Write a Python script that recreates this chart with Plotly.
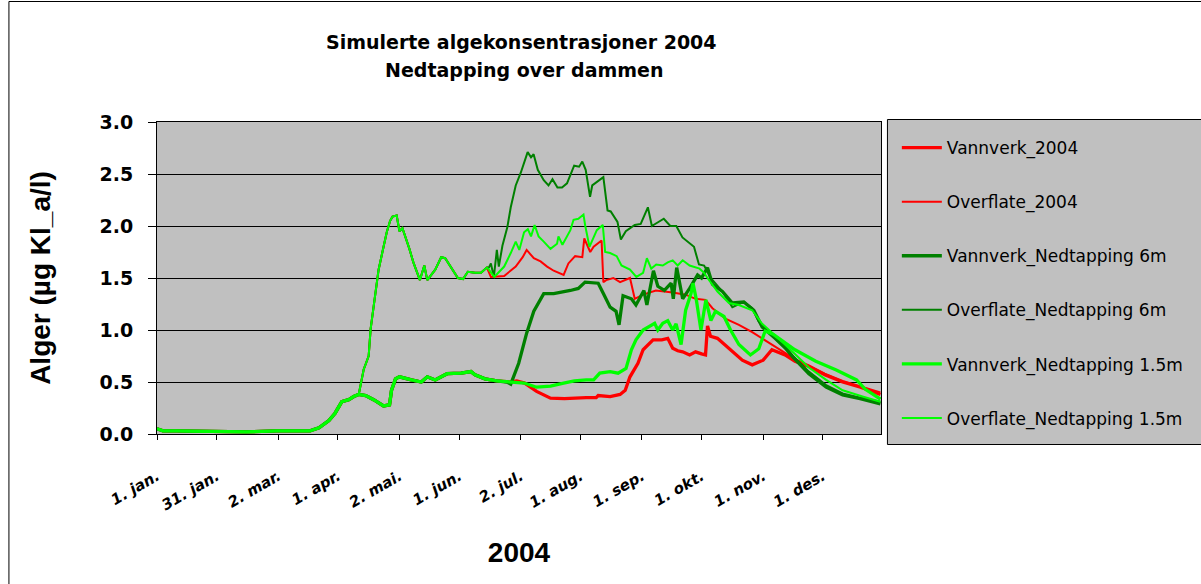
import plotly.graph_objects as go

# ---------------- data (day of year 2004, 0 = 1. jan.) ----------------
tick_days = [0, 30, 61, 91, 122, 152, 183, 213, 244, 274, 305, 335]
tick_labels = ["1. jan.", "31. jan.", "2. mar.", "1. apr.", "2. mai.", "1. jun.",
               "2. jul.", "1. aug.", "1. sep.", "1. okt.", "1. nov.", "1. des."]

# common start (all six series identical)
early_days = [0, 3, 10, 30, 45, 60, 77, 81.5, 86.5, 89.6, 93, 96.5, 99]
early_vals = [0.05, 0.03, 0.03, 0.02, 0.02, 0.03, 0.03, 0.06, 0.13, 0.20, 0.31, 0.33, 0.36]

# vannverk (intake) series identical until ~day 177
vv_common_days = [101.5, 105, 109, 114, 117, 118, 120, 122, 128, 133, 136, 140, 144, 146,
                  153, 158, 160, 165, 171, 176]
vv_common_vals = [0.38, 0.37, 0.33, 0.27, 0.28, 0.42, 0.53, 0.55, 0.52, 0.50, 0.55, 0.52, 0.56, 0.58,
                  0.585, 0.60, 0.57, 0.53, 0.51, 0.50]

# overflate (surface) series identical until ~day 166
of_common_days = [101.5, 104, 106.5, 107.5, 109.8, 111.5, 114, 115.6, 117.3, 118.5, 120.6, 122, 123.5,
                  125, 127, 129, 132.3, 134.5, 136, 140, 143, 145, 148, 151.4, 154, 156.4, 160, 163, 166]
of_common_vals = [0.38, 0.62, 0.75, 1.01, 1.35, 1.58, 1.80, 1.94, 2.05, 2.09, 2.10, 1.95, 1.98,
                  1.90, 1.78, 1.65, 1.48, 1.62, 1.48, 1.58, 1.70, 1.69, 1.60, 1.50, 1.49, 1.56, 1.55, 1.55, 1.60]

# Vannverk_2004
vv2004_days = [178, 181, 185, 191, 198, 205, 209, 216, 221, 222, 228, 233, 235.6, 238, 242, 244.6,
               249.6, 254, 257, 259.5, 262, 264.5, 268, 271, 274, 276, 277, 278.5, 282, 289.5, 294.5,
               299.5, 305, 309.4, 316, 321, 328, 336, 345, 354, 364]
vv2004_vals = [0.50, 0.51, 0.49, 0.41, 0.345, 0.34, 0.345, 0.35, 0.35, 0.37, 0.36, 0.38, 0.42, 0.55, 0.68, 0.81,
               0.905, 0.905, 0.92, 0.825, 0.80, 0.79, 0.76, 0.79, 0.77, 0.76, 1.04, 0.94, 0.92, 0.79, 0.71,
               0.665, 0.71, 0.81, 0.76, 0.70, 0.65, 0.57, 0.50, 0.45, 0.38]

# Overflate_2004
of2004_days = [168, 174.7, 180.5, 184, 186, 189.6, 193, 196.3, 199.6, 204.6, 207, 210.4, 214, 215, 218,
               219.7, 223.7, 224.6, 226, 229.6, 233, 238, 240.4, 244.6, 251, 259.5, 266, 271, 276, 279.5,
               286, 292.8, 299.5, 306, 312.7, 321, 328, 336, 345, 354, 364]
of2004_vals = [1.51, 1.52, 1.61, 1.70, 1.77, 1.69, 1.66, 1.61, 1.57, 1.53, 1.64, 1.71, 1.70, 1.88, 1.75,
               1.80, 1.86, 1.46, 1.48, 1.50, 1.46, 1.50, 1.30, 1.34, 1.38, 1.36, 1.34, 1.30, 1.29, 1.21,
               1.11, 1.05, 0.98, 0.90, 0.82, 0.72, 0.66, 0.58, 0.51, 0.46, 0.40]

# Vannverk_Nedtapping 6m
vv6_days = [178, 182, 186, 189.6, 194.6, 199.6, 208, 212, 215.4, 222, 224.6, 228, 231, 232.5, 234.5,
            238.7, 241, 245, 246.5, 249.8, 252, 255.3, 258.7, 259.8, 261.5, 264.5, 268, 270, 272, 274,
            277, 279.5, 284.5, 289.5, 295.3, 300.3, 304.5, 311, 316, 320, 328, 336.7, 345, 353.8, 364]
vv6_vals = [0.48, 0.68, 0.97, 1.18, 1.35, 1.35, 1.38, 1.40, 1.46, 1.45, 1.35, 1.22, 1.18, 1.05, 1.33,
            1.30, 1.24, 1.38, 1.24, 1.57, 1.42, 1.38, 1.45, 1.30, 1.60, 1.30, 1.40, 1.46, 1.53, 1.50,
            1.60, 1.44, 1.37, 1.26, 1.27, 1.19, 1.03, 0.92, 0.83, 0.74, 0.58, 0.45, 0.375, 0.34, 0.29]

# Overflate_Nedtapping 6m
of6_days = [167, 168, 169.5, 171, 172, 173.8, 176.3, 178, 180.5, 183, 185, 186.5, 188.2, 189.5, 191.6,
            194.6, 197, 199, 201.5, 203.8, 206.3, 209.9, 212.4, 214, 215.7, 217.9, 219, 224.6, 226.7,
            228.3, 231.7, 233.4, 235.9, 240.4, 243.4, 247, 249, 253.7, 255, 258.3, 261.3, 264.4, 267.8,
            270.2, 272.7, 275.3, 278.6, 284.5, 289.5, 295.3, 299.5, 302.8, 307.7, 312.7, 320, 328,
            336.7, 345, 353.8, 364]
of6_vals = [1.60, 1.64, 1.51, 1.77, 1.61, 1.81, 1.99, 2.18, 2.39, 2.51, 2.63, 2.71, 2.66, 2.69, 2.54,
            2.44, 2.39, 2.45, 2.37, 2.37, 2.41, 2.58, 2.57, 2.62, 2.54, 2.28, 2.39, 2.47, 2.15,
            2.14, 2.04, 1.87, 1.95, 2.01, 2.02, 2.18, 2.00, 2.06, 2.07, 2.00, 2.00, 1.89, 1.84,
            1.80, 1.63, 1.62, 1.50, 1.37, 1.22, 1.27, 1.21, 1.08, 0.99, 0.92, 0.75, 0.60,
            0.47, 0.39, 0.35, 0.31]

# Vannverk_Nedtapping 1.5m
vv15_days = [178, 184.7, 191, 198, 204.6, 210, 216, 219.7, 222.8, 228, 232, 236, 238.7, 241, 244.6, 247,
             250.4, 252, 254.5, 257, 259.5, 261.2, 263.7, 266, 268.7, 269.7, 271.3, 273.7, 276.2, 278.7,
             281, 285.3, 288.6, 292.8, 298.6, 302.8, 306, 310, 316, 321, 331.5, 341.8, 352, 356.4, 364]
vv15_vals = [0.50, 0.49, 0.45, 0.46, 0.49, 0.51, 0.52, 0.52, 0.585, 0.60, 0.585, 0.63, 0.81, 0.905, 1.00, 1.03,
             1.065, 1.00, 1.065, 1.09, 1.00, 1.06, 0.86, 1.19, 1.35, 1.45, 1.30, 1.00, 1.29, 1.09,
             1.18, 1.13, 1.00, 0.86, 0.76, 0.82, 0.99, 0.96, 0.88, 0.81, 0.70, 0.615, 0.52, 0.43, 0.335]

# Overflate_Nedtapping 1.5m
of15_days = [167, 169.7, 174.7, 178, 180.5, 182.3, 184.7, 186.6, 188.2, 190, 192, 194.6, 198, 201.3, 202,
             204, 208, 209.6, 212, 214.6, 215.5, 217.6, 221.3, 224.3, 225.5, 228, 231.3, 233.7, 238, 241.2,
             244.6, 246.5, 248.7, 251.2, 254.5, 257, 259.5, 262, 264.5, 268, 273, 275.3, 277, 282, 287.8,
             292.8, 299.5, 304.5, 310, 316, 321, 328, 336.7, 345, 355, 364]
of15_vals = [1.58, 1.51, 1.61, 1.74, 1.85, 1.77, 1.94, 1.97, 1.90, 2.01, 1.90, 1.85, 1.78, 1.83, 1.90,
             1.82, 1.96, 2.06, 2.07, 2.11, 2.00, 1.80, 1.96, 2.01, 1.75, 1.74, 1.71, 1.62, 1.58, 1.51,
             1.55, 1.69, 1.59, 1.63, 1.62, 1.65, 1.67, 1.62, 1.67, 1.62, 1.59, 1.55, 1.50, 1.37, 1.26,
             1.24, 1.19, 1.06, 0.96, 0.86, 0.77, 0.64, 0.52, 0.42, 0.36, 0.31]

series_names = ["Vannverk_2004", "Overflate_2004", "Vannverk_Nedtapping 6m",
                "Overflate_Nedtapping 6m", "Vannverk_Nedtapping 1.5m", "Overflate_Nedtapping 1.5m"]

# ---------------- assemble ----------------
vv_x = early_days + vv_common_days
vv_y = early_vals + vv_common_vals
of_x = early_days + of_common_days
of_y = early_vals + of_common_vals

THICK, THIN = 3.3, 2.0
series = [
    (vv_x + vv2004_days, vv_y + vv2004_vals, "#ff0000", THICK),
    (of_x + of2004_days, of_y + of2004_vals, "#ff0000", THIN),
    (vv_x + vv6_days, vv_y + vv6_vals, "#008000", THICK),
    (of_x + of6_days, of_y + of6_vals, "#008000", THIN),
    (vv_x + vv15_days, vv_y + vv15_vals, "#00ff00", THICK),
    (of_x + of15_days, of_y + of15_vals, "#00ff00", THIN),
]

W, H = 1201, 584
L, R, T, B = 157, 888, 122, 434


def px_x(p):
    return (p - L) / (R - L)


def px_y(p):
    return (B - p) / (B - T)


fig = go.Figure()
for i, ((xs, ys, col, w), name) in enumerate(zip(series, series_names)):
    fig.add_trace(go.Scatter(x=xs, y=ys, mode="lines", name=name, legendgroup=str(i),
                             line=dict(color=col, width=w)))

fig.update_layout(
    width=W, height=H,
    margin=dict(l=L, r=W - R, t=T, b=H - B, pad=0),
    paper_bgcolor="white",
    plot_bgcolor="#c0c0c0",
    showlegend=True,
    legend=dict(
        x=px_x(904), y=px_y(130), xanchor="left", yanchor="top",
        bgcolor="rgba(0,0,0,0)", borderwidth=0,
        font=dict(family="DejaVu Sans", size=17, color="black"),
        traceorder="grouped", tracegroupgap=29, itemwidth=40,
    ),
    xaxis=dict(
        range=[0, 364.3], tickmode="array", tickvals=tick_days, ticktext=tick_labels,
        tickangle=-30, ticks="outside", ticklen=5, tickcolor="black",
        showgrid=False, zeroline=False, showline=True, linecolor="black", linewidth=1, mirror=True,
        tickfont=dict(family="DejaVu Sans", size=15, color="black", weight="bold", style="italic"),
        ticklabelstandoff=22,
        title=dict(text="2004", font=dict(family="Liberation Sans", size=28, color="black", weight="bold"),
                   standoff=29),
        automargin=False,
    ),
    yaxis=dict(
        range=[0, 3], tickmode="linear", tick0=0, dtick=0.5, tickformat=".1f",
        ticks="outside", ticklen=8, tickcolor="black",
        showgrid=True, gridcolor="black", gridwidth=1, zeroline=False,
        showline=True, linecolor="black", linewidth=1, mirror=True,
        tickfont=dict(family="DejaVu Sans", size=19, color="black", weight="bold"),
        ticklabelstandoff=11,
        title=dict(text="Alger (µg Kl_a/l)",
                   font=dict(family="Liberation Sans", size=28, color="black", weight="bold"),
                   standoff=40),
        automargin=False,
    ),
    shapes=[
        dict(type="rect", xref="paper", yref="paper",
             x0=px_x(7.5), x1=px_x(1215), y0=px_y(1.5), y1=px_y(600),
             line=dict(color="black", width=1), fillcolor="rgba(0,0,0,0)", layer="below"),
        dict(type="rect", xref="paper", yref="paper",
             x0=px_x(894.5), x1=px_x(1215), y0=px_y(119.5), y1=px_y(444.5),
             line=dict(color="black", width=1), fillcolor="#c0c0c0", layer="below"),
    ],
    annotations=[
        dict(text="Simulerte algekonsentrasjoner 2004", xref="paper", yref="paper",
             x=px_x(525), y=px_y(42), xanchor="center", yanchor="middle", showarrow=False,
             font=dict(family="DejaVu Sans", size=19, color="black", weight="bold")),
        dict(text="Nedtapping over dammen", xref="paper", yref="paper",
             x=px_x(528), y=px_y(70), xanchor="center", yanchor="middle", showarrow=False,
             font=dict(family="DejaVu Sans", size=19, color="black", weight="bold")),
    ],
)

fig.write_html("out.html", config={"displayModeBar": False},
               post_script="document.body.style.margin='0';")
